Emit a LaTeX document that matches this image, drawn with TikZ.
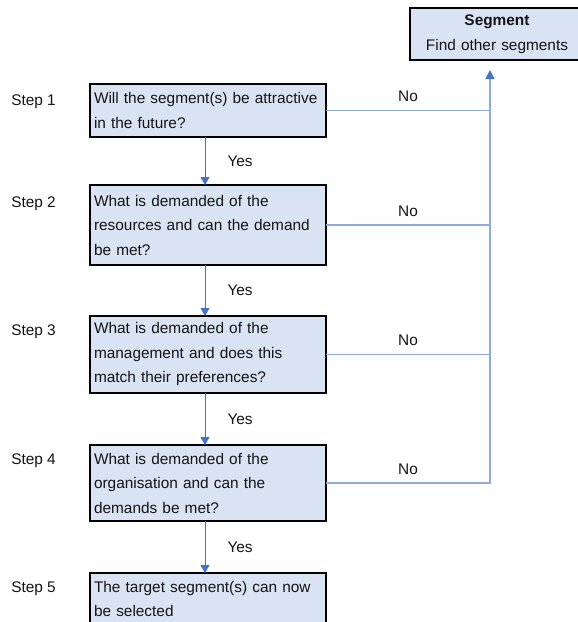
\documentclass[tikz,border=0pt]{standalone}
\usepackage{fontspec}
\setmainfont{Liberation Sans}
\usetikzlibrary{arrows.meta, positioning}

\definecolor{boxfill}{HTML}{DAE3F3}
\definecolor{darkblue}{HTML}{4472C4}
\definecolor{lightblue}{HTML}{8FAADC}
\definecolor{inktext}{HTML}{141414}

\begin{document}
\begin{tikzpicture}[
        x = 1pt, y = -1pt,
        node distance = 50pt,
        font = \fontsize{15.4}{24.5}\selectfont,
        text = inktext,
        stepbox/.style = {draw = black, line width = 1.4pt, fill = boxfill,
            text width = 228pt, inner xsep = 4pt, inner ysep = 0pt,
            outer sep = 0pt, align = left},
        segbox/.style = {draw = black, line width = 1.4pt, fill = boxfill,
            text width = 166pt, inner xsep = 4pt, inner ysep = 0pt,
            outer sep = 0pt, minimum height = 52pt, align = center},
        steplabel/.style = {inner sep = 0pt},
        yesarrow/.style = {draw = darkblue, line width = 1pt,
            -{Triangle[width = 9pt, length = 8pt]}},
        noline/.style = {draw = lightblue, line width = 1.5pt},
        yeslabel/.style = {midway, right = 22pt, inner sep = 0pt},
        nolabel/.style = {midway, above = 8pt, inner sep = 0pt}
    ]

    \useasboundingbox (0,0) rectangle (578,622);

    \node[segbox, anchor = north west] (seg) at (410,8)
        {\textbf{Segment}\\Find other segments};

    \node[stepbox, anchor = north west, minimum height = 53pt] (q1) at (90,84)
        {Will the segment(s) be attractive\\in the future?};
    \node[stepbox, minimum height = 80pt] (q2) [below = 48pt of q1]
        {What is demanded of the\\resources and can the demand\\be met?};
    \node[stepbox, minimum height = 77pt] (q3) [below = 51pt of q2]
        {What is demanded of the\\management and does this\\match their preferences?};
    \node[stepbox, minimum height = 76pt] (q4) [below = 52pt of q3]
        {What is demanded of the\\organisation and can the\\demands be met?};
    \node[stepbox, minimum height = 52pt] (q5) [below = 52pt of q4]
        {The target segment(s) can now\\be selected};

    \node[steplabel] (s1) [below left = 11pt and 34pt of q1.north west] {Step 1};
    \node[steplabel] (s2) [below left = 12pt and 34pt of q2.north west] {Step 2};
    \node[steplabel] (s3) [below left = 9pt and 34pt of q3.north west]  {Step 3};
    \node[steplabel] (s4) [below left = 9pt and 34pt of q4.north west]  {Step 4};
    \node[steplabel] (s5) [below left = 9pt and 34pt of q5.north west]  {Step 5};

    \coordinate (up) at (490,70);

    % yes path
    \draw[yesarrow] ([xshift = -3pt]q1.south) -- node[yeslabel] {Yes} ([xshift = -3pt]q2.north);
    \draw[yesarrow] ([xshift = -3pt]q2.south) -- node[yeslabel] {Yes} ([xshift = -3pt]q3.north);
    \draw[yesarrow] ([xshift = -3pt]q3.south) -- node[yeslabel] {Yes} ([xshift = -3pt]q4.north);
    \draw[yesarrow] ([xshift = -3pt]q4.south) -- node[yeslabel] {Yes} ([xshift = -3pt]q5.north);

    % no path
    \draw[noline] (q1.east) -- node[nolabel] {No} (q1.east -| up);
    \draw[noline] (q2.east) -- node[nolabel] {No} (q2.east -| up);
    \draw[noline] (q3.east) -- node[nolabel] {No} (q3.east -| up);
    \draw[noline, -{Triangle[width = 9pt, length = 9pt, color = darkblue]}]
        (q4.east) -- node[nolabel] {No} (q4.east -| up) -- (up);

\end{tikzpicture}
\end{document}
